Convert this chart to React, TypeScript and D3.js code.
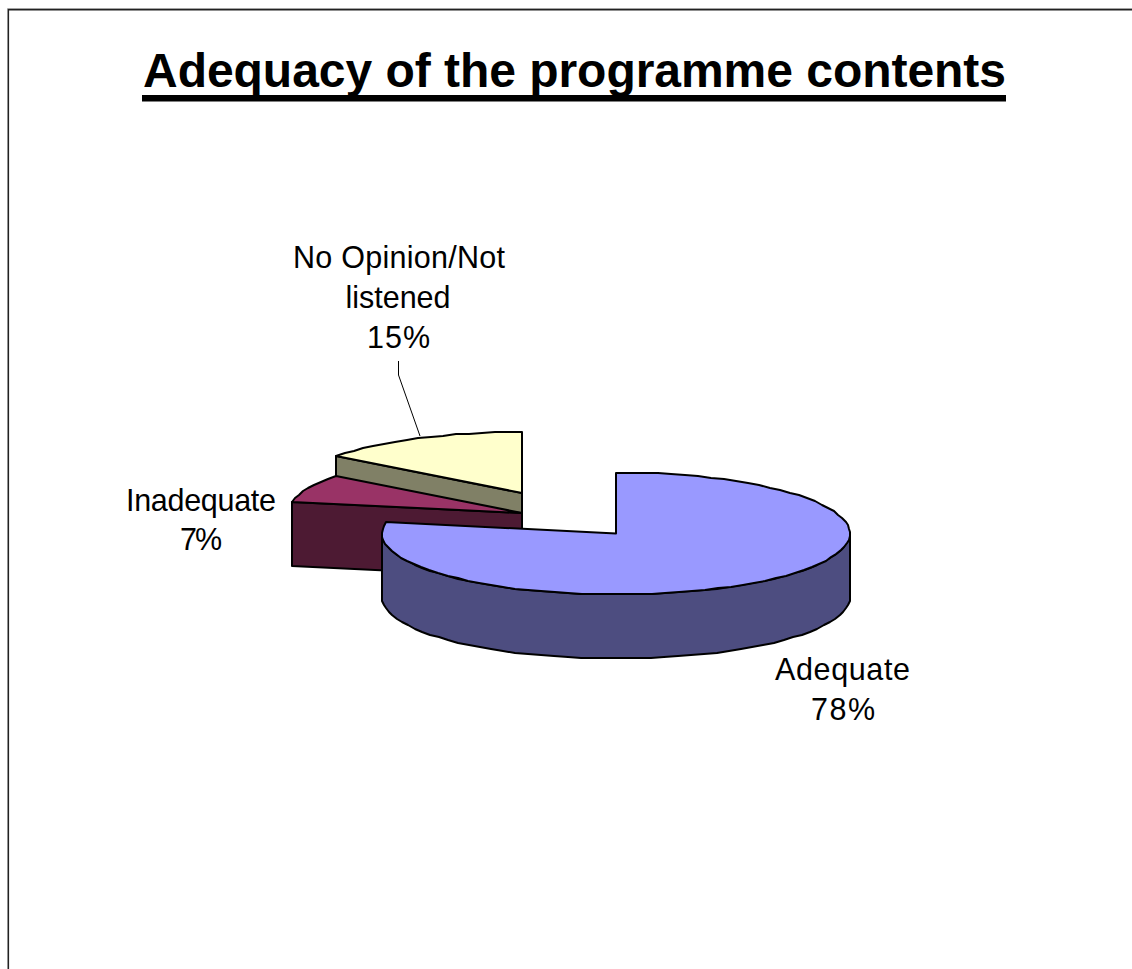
import React from 'react';
import * as d3 from 'd3';

const title = 'Adequacy of the programme contents';
const categories = ['Adequate', 'Inadequate', 'No Opinion/Not listened'];
// shares as they look in the drawing, the labels show them rounded
const values = [78, 7.4, 14.6];
const topColors = ['#9999ff', '#993366', '#ffffcc'];
const sideColors = ['#4d4d80', '#4d1a33', '#808066'];

const rx = 234;
const ry = 61;
const depth = 64;
// each slice is pulled out of the pie, so each has its own centre
const centres: [number, number][] = [[616, 533.5], [522, 513], [522, 493]];

const pie = d3.pie<number>().sort(null);
const slices = pie(values);

// the original outline is coarse, so snap the rim to whole pixels
const px = (c: [number, number], a: number) => Math.round(c[0] + rx * Math.sin(a));
const py = (c: [number, number], a: number) => Math.round(c[1] - ry * Math.cos(a));

function rimAngles(a0: number, a1: number) {
  const n = Math.ceil((a1 - a0) / 0.06);
  return d3.range(n + 1).map(i => a0 + ((a1 - a0) * i) / n);
}

function topPath(c: [number, number], a0: number, a1: number) {
  const p = d3.path();
  p.moveTo(c[0], c[1]);
  rimAngles(a0, a1).forEach(a => p.lineTo(px(c, a), py(c, a)));
  p.closePath();
  return p.toString();
}

function cutPath(c: [number, number], a: number) {
  const p = d3.path();
  p.moveTo(c[0], c[1]);
  p.lineTo(px(c, a), py(c, a));
  p.lineTo(px(c, a), py(c, a) + depth);
  p.lineTo(c[0], c[1] + depth);
  p.closePath();
  return p.toString();
}

// outer wall, only the part that faces the viewer
function wallPath(c: [number, number], a0: number, a1: number) {
  const from = Math.max(a0, Math.PI / 2);
  const to = Math.min(a1, (3 * Math.PI) / 2);
  if (to <= from) return null;
  const ang = rimAngles(from, to);
  const p = d3.path();
  ang.forEach((a, i) => (i ? p.lineTo(px(c, a), py(c, a)) : p.moveTo(px(c, a), py(c, a))));
  [...ang].reverse().forEach(a => p.lineTo(px(c, a), py(c, a) + depth));
  p.closePath();
  return p.toString();
}

const labelFont = '"Liberation Sans", Arial, sans-serif';
const pct = (v: number) => `${Math.round(v)}%`;

const App = () => {
  // back slices first, the big one on top
  const order = [2, 1, 0];
  return (
    <svg width={1132} height={969} style={{ position: 'absolute', left: 0, top: 0 }}>
      <rect width={1132} height={969} fill="#ffffff" />
      <path d="M7,8.5H1132" fill="none" stroke="#d0d0d0" strokeWidth={1} />
      <path d="M8.3,969V9.6H1132" fill="none" stroke="#222222" strokeWidth={1.6} />
      <text
        x={574.5}
        y={86.5}
        textAnchor="middle"
        fontFamily={labelFont}
        fontWeight="bold"
        fontSize={48}
        textLength={863}
      >
        {title}
      </text>
      <rect x={142} y={95} width={864} height={6.5} fill="#000000" />
      {order.map(i => {
        const s = slices[i];
        const c = centres[i];
        const wall = wallPath(c, s.startAngle, s.endAngle);
        return (
          <g key={categories[i]} stroke="#000000" strokeWidth={2} strokeLinejoin="round">
            {Math.sin(s.startAngle) < -1e-9 && <path d={cutPath(c, s.startAngle)} fill={sideColors[i]} />}
            {wall && <path d={wall} fill={sideColors[i]} />}
            <path d={topPath(c, s.startAngle, s.endAngle)} fill={topColors[i]} />
          </g>
        );
      })}
      <path d="M398.5,361V375L420,436" fill="none" stroke="#000000" strokeWidth={1} />
      <g fontFamily={labelFont} fontSize={30.5} textAnchor="middle" fill="#000000">
        <text x={399} y={268} textLength={212}>No Opinion/Not</text>
        <text x={398} y={308} textLength={105}>listened</text>
        <text x={398.5} y={348} textLength={63}>{pct(values[2])}</text>
        <text x={201} y={511} textLength={150}>{categories[1]}</text>
        <text x={201} y={550} textLength={42}>{pct(values[1])}</text>
        <text x={842.5} y={680} textLength={135}>{categories[0]}</text>
        <text x={843} y={720} textLength={64}>{pct(values[0])}</text>
      </g>
    </svg>
  );
};

export default App;
